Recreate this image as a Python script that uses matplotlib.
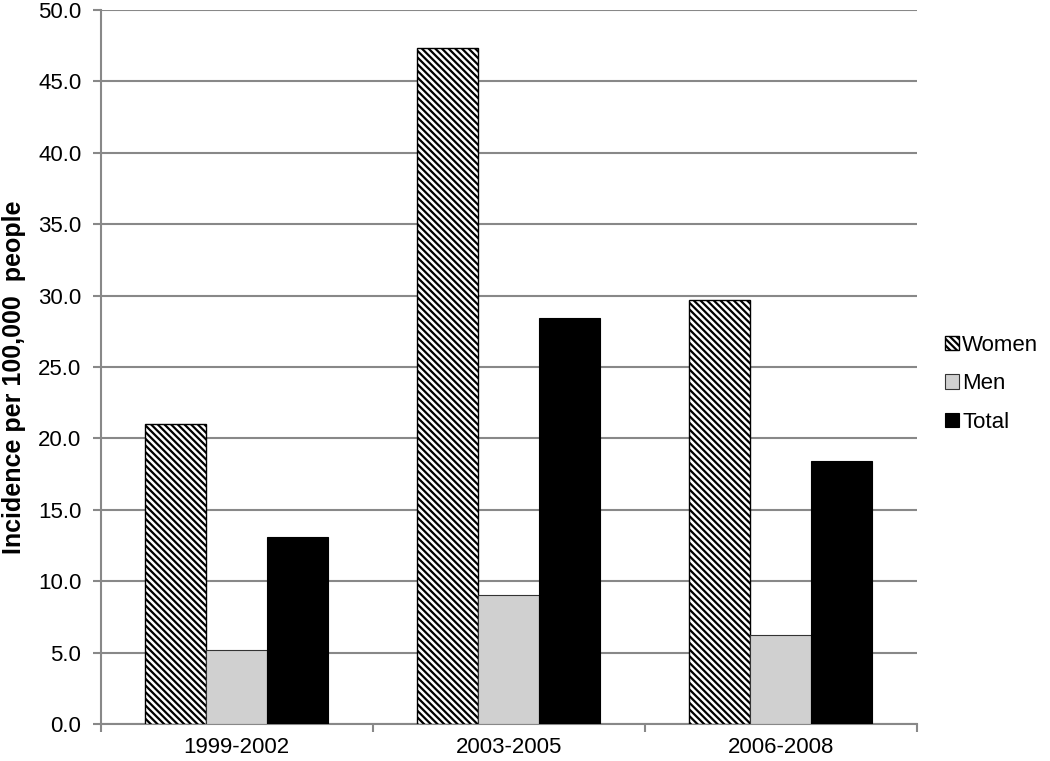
import numpy as np
import matplotlib.pyplot as plt
from matplotlib.ticker import FormatStrFormatter

plt.rcParams['font.family'] = ['Liberation Sans', 'DejaVu Sans']
plt.rcParams['hatch.linewidth'] = 1.6

periods = ['1999-2002', '2003-2005', '2006-2008']
women = [21.0, 47.3, 29.7]
men = [5.2, 9.0, 6.2]
total = [13.1, 28.4, 18.4]

fig = plt.figure(figsize=(10.5, 7.61), dpi=100)
ax = fig.add_axes([0.096, 0.0486, 0.777, 0.9384])

x = np.arange(len(periods))
w = 0.224
grid_c = '#888888'

ax.bar(x - w, women, w, color='white', edgecolor='black', hatch='\\' * 5,
       linewidth=1.0, label='Women', zorder=3)
ax.bar(x, men, w, color='#d0d0d0', edgecolor='#333333', linewidth=0.8,
       label='Men', zorder=3)
ax.bar(x + w, total, w, color='black', edgecolor='black', linewidth=0.8,
       label='Total', zorder=3)

ax.set_xlim(-0.5, 2.5)
ax.set_ylim(0, 50)
ax.set_yticks(np.arange(0, 50.1, 5))
ax.yaxis.set_major_formatter(FormatStrFormatter('%.1f'))
ax.yaxis.grid(True, color=grid_c, linewidth=1.5, zorder=0)
ax.set_axisbelow(True)

ax.set_xticks(x)
ax.set_xticklabels(periods)
ax.set_xticks([-0.5, 0.5, 1.5, 2.5], minor=True)
ax.tick_params(axis='x', which='major', length=0, pad=9, labelsize=16)
ax.tick_params(axis='x', which='minor', length=6, width=1.5, color=grid_c)
ax.tick_params(axis='y', length=6, width=1.5, color=grid_c, labelsize=16, pad=8)

for s in ['top', 'right']:
    ax.spines[s].set_visible(False)
for s in ['left', 'bottom']:
    ax.spines[s].set_color(grid_c)
    ax.spines[s].set_linewidth(1.5)

ax.set_ylabel('Incidence per 100,000  people', fontsize=18, fontweight='bold')
ax.yaxis.set_label_coords(-0.092, 0.486)

fig.legend(loc='upper left', bbox_to_anchor=(0.892, 0.572), frameon=False,
           fontsize=16, handlelength=0.6, handleheight=0.6, handletextpad=0.15,
           labelspacing=0.8, borderaxespad=0)

fig.savefig('out.png', dpi=100)
